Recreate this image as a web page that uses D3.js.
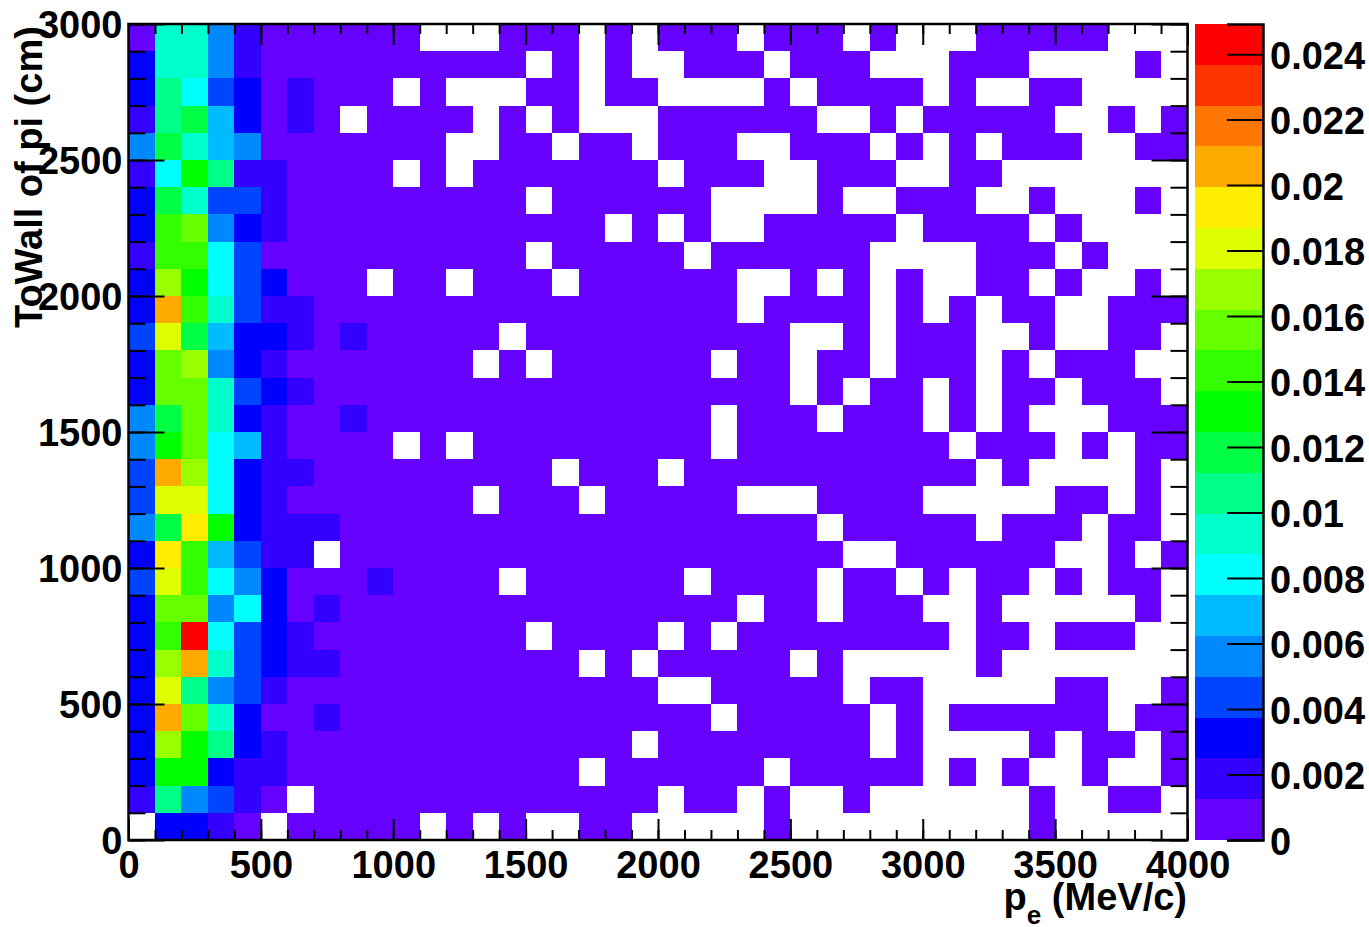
<!DOCTYPE html>
<html>
<head>
<meta charset="utf-8">
<script src="https://cdn.jsdelivr.net/npm/d3@7"></script>
<style>
html,body{margin:0;padding:0;background:#fff;overflow:hidden}
text{font-family:"Liberation Sans",Arial,sans-serif;font-weight:bold;fill:#000}
</style>
</head>
<body>
<svg id="c" width="1369" height="927"></svg>
<script>
// Bin contents in units of 1e-3; 0 = empty bin. Each row is one TofWall bin, 40 momentum bins.
const y2900=[.6,9.3,9.3,5.6,1.9,.6,.6,.6,.6,.6, .6,0,0,0,.6,.6,.6,0,.6,0, .6,.6,.6,0,.6,.6,.6,0,.6,0, 0,0,.6,.6,.6,.6,.6,0,0,0];
const y2800=[3.1,9.3,9.3,5.6,1.9,.6,.6,.6,.6,.6, .6,.6,.6,.6,.6,0,.6,0,.6,0, 0,.6,.6,.6,0,.6,.6,.6,0,0, 0,.6,.6,.6,0,0,0,0,.6,0];
const y2700=[3.1,10.6,8.1,4.4,3.1,.6,1.9,.6,.6,.6, 0,.6,0,0,0,.6,.6,0,.6,.6, 0,0,0,0,.6,0,.6,.6,.6,.6, 0,.6,0,0,.6,.6,0,0,0,0];
const y2600=[1.9,10.6,11.8,6.9,3.1,.6,1.9,.6,0,.6, .6,.6,.6,0,.6,0,.6,0,0,0, .6,.6,.6,.6,.6,.6,0,0,.6,0, .6,.6,.6,.6,.6,0,0,.6,0,.6];
const y2500=[5.6,11.8,9.3,6.9,5.6,.6,.6,.6,.6,.6, .6,.6,0,0,.6,.6,0,.6,.6,0, .6,.6,.6,0,0,.6,.6,.6,0,.6, 0,.6,0,.6,.6,.6,0,0,.6,.6];
const y2400=[1.9,8.1,13.1,10.6,1.9,1.9,.6,.6,.6,.6, 0,.6,0,.6,.6,.6,.6,.6,.6,.6, 0,.6,.6,.6,0,0,.6,.6,.6,0, 0,.6,.6,0,0,0,0,0,0,0];
const y2300=[3.1,11.8,9.3,4.4,4.4,1.9,.6,.6,.6,.6, .6,.6,.6,.6,.6,0,.6,.6,.6,.6, .6,.6,0,0,0,0,.6,0,0,.6, .6,.6,0,0,.6,0,0,0,.6,0];
const y2200=[3.1,14.3,15.6,5.6,3.1,1.9,.6,.6,.6,.6, .6,.6,.6,.6,.6,.6,.6,.6,0,.6, 0,.6,0,0,.6,.6,.6,.6,.6,0, .6,.6,.6,.6,0,.6,0,0,0,0];
const y2100=[1.9,14.3,14.3,8.1,4.4,.6,.6,.6,.6,.6, .6,.6,.6,.6,.6,0,.6,.6,.6,.6, .6,0,.6,.6,.6,.6,.6,.6,0,0, 0,0,.6,.6,.6,0,.6,0,0,0];
const y2000=[3.1,16.8,13.1,8.1,4.4,3.1,.6,.6,.6,0, .6,.6,0,.6,.6,.6,0,.6,.6,.6, .6,.6,.6,0,0,.6,0,.6,0,.6, 0,0,.6,.6,0,.6,0,0,.6,0];
const y1900=[3.1,20.6,14.3,9.3,4.4,1.9,1.9,.6,.6,.6, .6,.6,.6,.6,.6,.6,.6,.6,.6,.6, .6,.6,.6,0,.6,.6,.6,.6,0,.6, 0,.6,0,.6,.6,0,0,.6,.6,.6];
const y1800=[4.4,18.1,11.8,6.9,3.1,3.1,1.9,.6,1.9,.6, .6,.6,.6,.6,0,.6,.6,.6,.6,.6, .6,.6,.6,.6,.6,0,0,.6,0,.6, .6,.6,0,0,.6,0,0,.6,.6,0];
const y1700=[3.1,15.6,16.8,5.6,3.1,1.9,.6,.6,.6,.6, .6,.6,.6,0,.6,0,.6,.6,.6,.6, .6,.6,0,.6,.6,0,.6,.6,0,.6, .6,.6,0,.6,0,.6,.6,.6,0,0];
const y1600=[3.1,15.6,15.6,9.3,4.4,3.1,1.9,.6,.6,.6, .6,.6,.6,.6,.6,.6,.6,.6,.6,.6, .6,.6,.6,.6,.6,0,.6,0,.6,.6, 0,.6,0,.6,.6,0,.6,.6,.6,0];
const y1500=[5.6,11.8,15.6,9.3,3.1,1.9,.6,.6,1.9,.6, .6,.6,.6,.6,.6,.6,.6,.6,.6,.6, .6,.6,0,.6,.6,.6,0,.6,.6,.6, 0,.6,0,.6,0,0,0,.6,.6,.6];
const y1400=[5.6,13.1,15.6,8.1,6.9,1.9,.6,.6,.6,.6, 0,.6,0,.6,.6,.6,.6,.6,.6,.6, .6,.6,0,.6,.6,.6,.6,.6,.6,.6, .6,0,.6,.6,.6,0,.6,0,.6,.6];
const y1300=[4.4,20.6,16.8,8.1,3.1,1.9,1.9,.6,.6,.6, .6,.6,.6,.6,.6,.6,0,.6,.6,.6, 0,.6,.6,.6,.6,.6,.6,.6,.6,.6, .6,.6,0,.6,0,0,0,0,.6,0];
const y1200=[4.4,18.1,18.1,8.1,3.1,1.9,.6,.6,.6,.6, .6,.6,.6,0,.6,.6,.6,0,.6,.6, .6,.6,.6,0,0,0,.6,.6,.6,.6, 0,0,0,0,0,.6,.6,0,.6,0];
const y1100=[5.6,11.8,19.3,13.1,3.1,1.9,1.9,1.9,.6,.6, .6,.6,.6,.6,.6,.6,.6,.6,.6,.6, .6,.6,.6,.6,.6,.6,0,.6,.6,.6, .6,.6,0,.6,.6,.6,0,.6,.6,0];
const y1000=[3.1,19.3,14.3,6.9,4.4,1.9,1.9,0,.6,.6, .6,.6,.6,.6,.6,.6,.6,.6,.6,.6, .6,.6,.6,.6,.6,.6,.6,0,0,.6, .6,.6,.6,.6,.6,0,0,.6,0,.6];
const y900=[4.4,18.1,14.3,8.1,5.6,3.1,.6,.6,.6,1.9, .6,.6,.6,.6,0,.6,.6,.6,.6,.6, .6,0,.6,.6,.6,.6,0,.6,.6,0, .6,0,.6,.6,0,.6,0,.6,.6,0];
const y800=[3.1,15.6,15.6,5.6,8.1,3.1,.6,1.9,.6,.6, .6,.6,.6,.6,.6,.6,.6,.6,.6,.6, .6,.6,.6,0,.6,.6,0,.6,.6,.6, 0,0,.6,0,0,0,0,0,.6,0];
const y700=[3.1,14.3,24.3,8.1,4.4,3.1,1.9,.6,.6,.6, .6,.6,.6,.6,.6,0,.6,.6,.6,.6, 0,.6,0,.6,.6,.6,.6,.6,.6,.6, .6,0,.6,.6,0,.6,.6,.6,0,0];
const y600=[3.1,16.8,20.6,9.3,4.4,3.1,1.9,1.9,.6,.6, .6,.6,.6,.6,.6,.6,.6,0,.6,0, .6,.6,.6,.6,.6,0,.6,0,0,0, 0,0,.6,0,0,0,0,0,0,0];
const y500=[3.1,18.1,10.6,5.6,4.4,1.9,.6,.6,.6,.6, .6,.6,.6,.6,.6,.6,.6,.6,.6,.6, 0,0,.6,.6,.6,.6,.6,0,.6,.6, 0,0,0,0,0,.6,.6,0,0,.6];
const y400=[3.1,20.6,15.6,9.3,3.1,.6,.6,1.9,.6,.6, .6,.6,.6,.6,.6,.6,.6,.6,.6,.6, .6,.6,0,.6,.6,.6,.6,.6,0,.6, 0,.6,.6,.6,.6,.6,.6,0,.6,.6];
const y300=[3.1,16.8,13.1,10.6,3.1,1.9,.6,.6,.6,.6, .6,.6,.6,.6,.6,.6,.6,.6,.6,0, .6,.6,.6,.6,.6,.6,.6,.6,0,.6, 0,0,0,0,.6,0,.6,.6,0,.6];
const y200=[3.1,13.1,13.1,3.1,1.9,1.9,.6,.6,.6,.6, .6,.6,.6,.6,.6,.6,.6,0,.6,.6, .6,.6,.6,.6,0,.6,.6,.6,.6,.6, 0,.6,0,.6,0,0,.6,0,0,.6];
const y100=[1.9,10.6,5.6,4.4,1.9,.6,0,.6,.6,.6, .6,.6,.6,.6,.6,.6,.6,.6,.6,.6, 0,.6,.6,0,.6,0,0,.6,0,0, 0,0,0,0,.6,0,0,.6,.6,0];
const y0=[0,3.1,3.1,1.9,.6,0,.6,.6,.6,.6, .6,0,.6,0,.6,0,0,.6,.6,0, 0,0,0,0,.6,0,0,0,0,0, 0,0,0,0,.6,0,0,0,0,0];

const yBinEdges=[2900,2800,2700,2600,2500,2400,2300,2200,2100,2000,1900,1800,1700,1600,1500,1400,1300,1200,1100,1000,900,800,700,600,500,400,300,200,100,0];
const rows=[y2900,y2800,y2700,y2600,y2500,y2400,y2300,y2200,y2100,y2000,y1900,y1800,y1700,y1600,y1500,y1400,y1300,y1200,y1100,y1000,y900,y800,y700,y600,y500,y400,y300,y200,y100,y0];

const levelColors=["#6600ff","#3300ff","#0000ff","#0044ff","#0088ff","#00bbff","#00ffff","#00ffcc","#00ff88","#00ff44","#00ff00","#33ff00","#66ff00","#99ff00","#ddff00","#ffee00","#ffaa00","#ff7700","#ff3300","#ff0000"];
const xBinWidth=100, yBinWidth=100, zMax=24.92;
const xTickLabels=[0,500,1000,1500,2000,2500,3000,3500,4000];
const yTickLabels=[0,500,1000,1500,2000,2500,3000];
const zTicks=[0,2,4,6,8,10,12,14,16,18,20,22,24];

const svg=d3.select("#c");
const L=128.5,R=1187.5,T=24,B=840,FS=38;
const x=d3.scaleLinear().domain([0,4000]).range([L,R]);
const y=d3.scaleLinear().domain([0,3000]).range([B,T]);
const z=d3.scaleQuantize().domain([0,zMax]).range(levelColors);
const zy=d3.scaleLinear().domain([0,zMax]).range([B,T]);

// cells
const cells=[];
rows.forEach((r,j)=>r.forEach((v,i)=>{ if(v>0) cells.push({px:i*xBinWidth,py:yBinEdges[j],v}); }));
svg.append("g").attr("shape-rendering","crispEdges").selectAll("rect").data(cells).join("rect")
  .attr("x",d=>x(d.px)).attr("y",d=>y(d.py+yBinWidth))
  .attr("width",d=>x(d.px+xBinWidth)-x(d.px)).attr("height",d=>y(d.py)-y(d.py+yBinWidth))
  .attr("fill",d=>z(d.v));

// ticks
const minorX=d3.range(0,4001,100), minorY=d3.range(0,3001,100);
function tickGroup(axis,tx,ty){
  const g=svg.append("g").attr("transform",`translate(${tx},${ty})`).call(axis);
  g.select(".domain").remove();
  g.selectAll("line").attr("stroke","#000").attr("stroke-width",2);
  return g;
}
tickGroup(d3.axisBottom(x).tickValues(minorX).tickSize(-10).tickFormat(""),0,B);
tickGroup(d3.axisTop(x).tickValues(minorX).tickSize(-10).tickFormat(""),0,T);
tickGroup(d3.axisLeft(y).tickValues(minorY).tickSize(-17).tickFormat(""),L,0);
tickGroup(d3.axisRight(y).tickValues(minorY).tickSize(-17).tickFormat(""),R,0);
tickGroup(d3.axisTop(x).tickValues(xTickLabels).tickSize(-21).tickFormat(""),0,T);
tickGroup(d3.axisRight(y).tickValues(yTickLabels).tickSize(-36).tickFormat(""),R,0);
const xa=tickGroup(d3.axisBottom(x).tickValues(xTickLabels).tickSize(-21).tickPadding(0).tickFormat(d3.format("d")),0,B);
xa.selectAll("text").attr("y",38).attr("dy",0).attr("font-size",FS).attr("text-anchor","middle").attr("font-family",null);
const ya=tickGroup(d3.axisLeft(y).tickValues(yTickLabels).tickSize(-36).tickPadding(0).tickFormat(d3.format("d")),L,0);
ya.selectAll("text").attr("x",-6).attr("dy",13).attr("font-size",FS).attr("text-anchor","end");

// frame
svg.append("rect").attr("x",L).attr("y",T).attr("width",R-L).attr("height",B-T).attr("fill","none").attr("stroke","#000").attr("stroke-width",2.5);

// titles
svg.append("text").attr("transform","translate(42,328) rotate(-90)").attr("font-size",FS).text("ToWall of pi (cm)");
const xt=svg.append("text").attr("x",1187).attr("y",910).attr("font-size",FS).attr("text-anchor","end");
xt.append("tspan").text("p");
xt.append("tspan").attr("font-size",26).attr("dy",14).text("e");
xt.append("tspan").attr("dy",-14).text(" (MeV/c)");

// palette
const PL=1195,PR=1263;
svg.append("g").attr("shape-rendering","crispEdges").selectAll("rect").data(levelColors).join("rect")
  .attr("x",PL).attr("width",PR-PL)
  .attr("y",c=>zy(z.invertExtent(c)[1])).attr("height",c=>zy(z.invertExtent(c)[0])-zy(z.invertExtent(c)[1]))
  .attr("fill",c=>c);
const pa=svg.append("g").attr("transform",`translate(${PR},0)`)
  .call(d3.axisRight(zy).tickValues(zTicks).tickSize(-36).tickPadding(0).tickFormat(d=>d3.format(".3~f")(d/1000)));
pa.select(".domain").attr("stroke","#000").attr("stroke-width",2.5);
pa.selectAll("line").attr("stroke","#000").attr("stroke-width",2);
pa.selectAll("text").attr("x",7).attr("dy",14).attr("font-size",FS).attr("text-anchor","start");
</script>
</body>
</html>
